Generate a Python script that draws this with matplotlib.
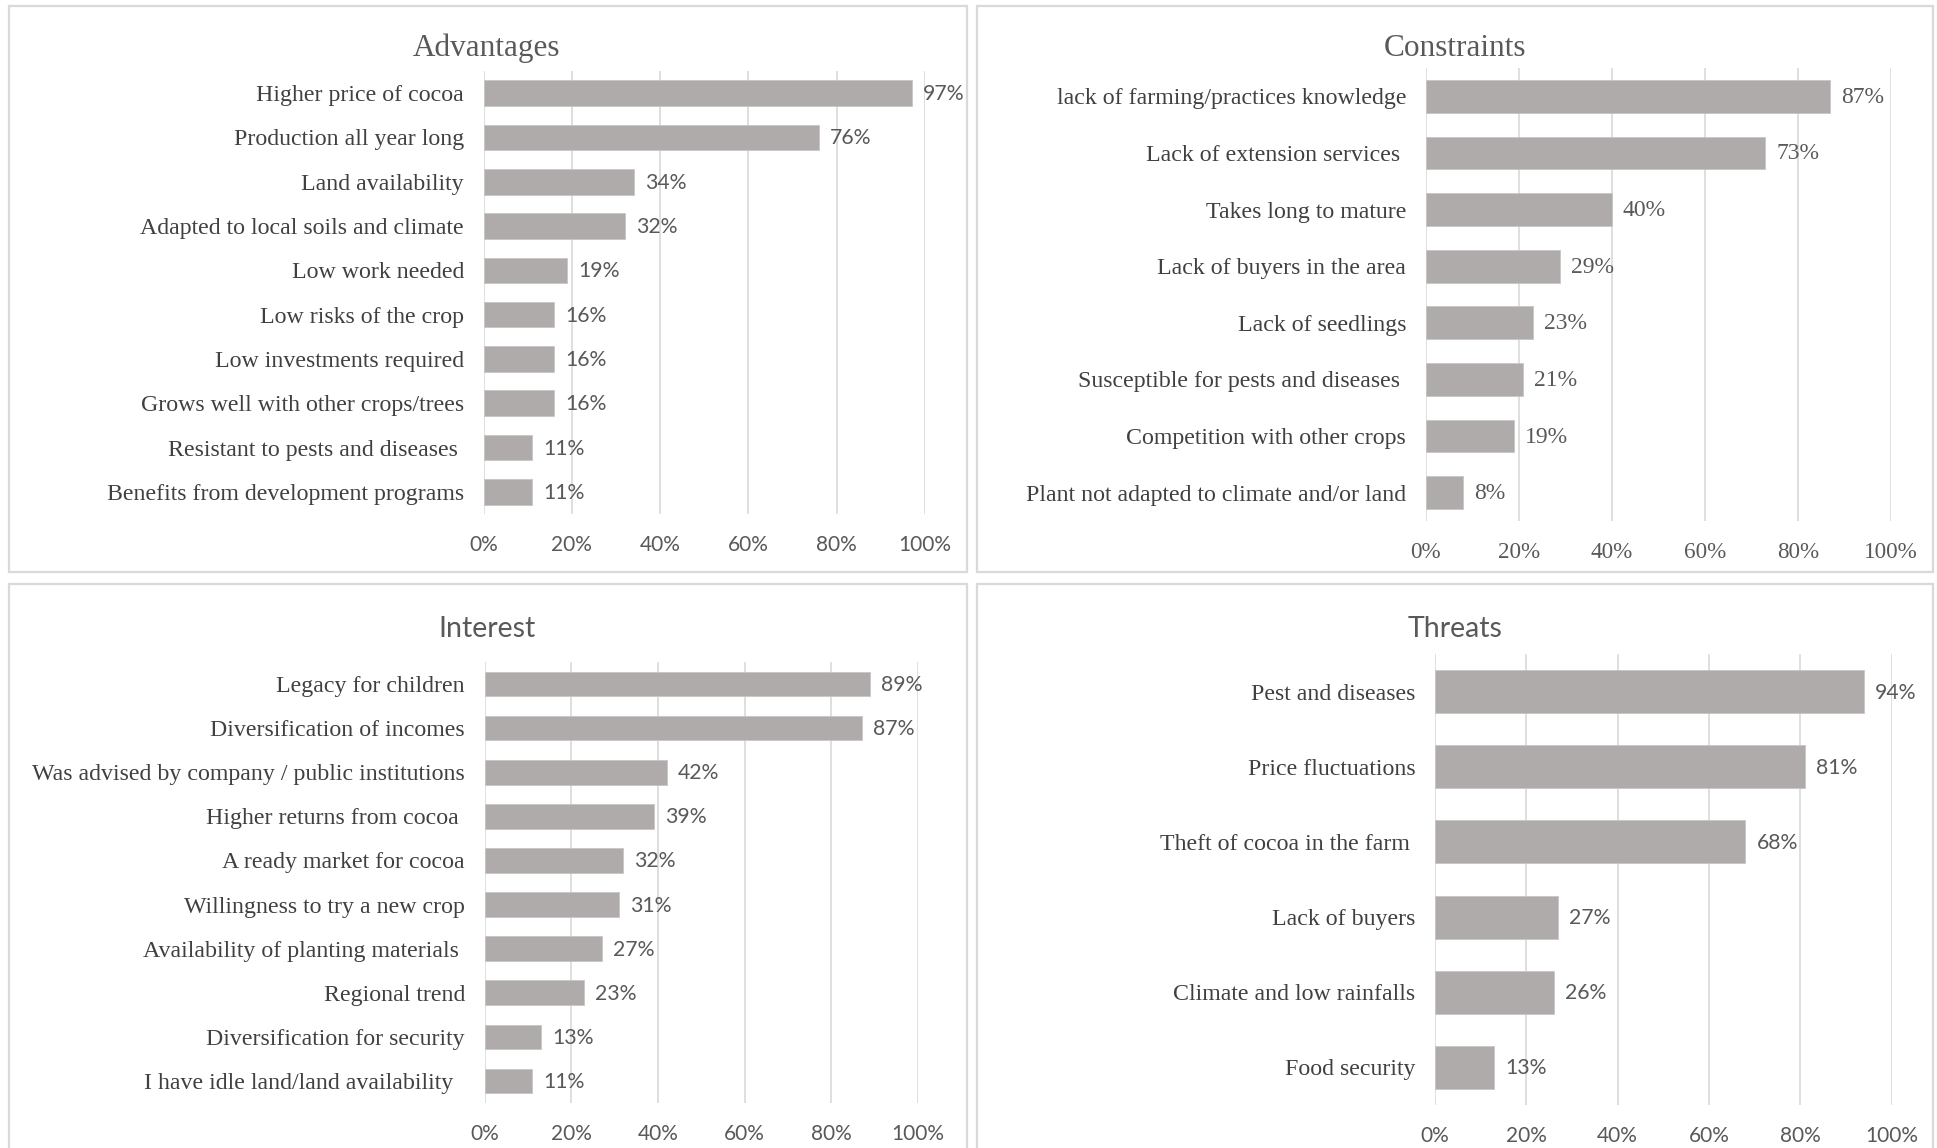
import matplotlib
matplotlib.use("Agg")
import matplotlib.pyplot as plt
from matplotlib.patches import Rectangle
from matplotlib.ticker import FixedLocator

# ---- data -------------------------------------------------------------
adv_labels = ["Higher price of cocoa", "Production all year long", "Land availability",
              "Adapted to local soils and climate", "Low work needed", "Low risks of the crop",
              "Low investments required", "Grows well with other crops/trees",
              "Resistant to pests and diseases ", "Benefits from development programs"]
adv_values = [97, 76, 34, 32, 19, 16, 16, 16, 11, 11]

con_labels = ["lack of farming/practices knowledge", "Lack of extension services ",
              "Takes long to mature", "Lack of buyers in the area", "Lack of seedlings",
              "Susceptible for pests and diseases ", "Competition with other crops",
              "Plant not adapted to climate and/or land"]
con_values = [87, 73, 40, 29, 23, 21, 19, 8]

int_labels = ["Legacy for children", "Diversification of incomes",
              "Was advised by company / public institutions", "Higher returns from cocoa ",
              "A ready market for cocoa", "Willingness to try a new crop",
              "Availability of planting materials ", "Regional trend",
              "Diversification for security", "I have idle land/land availability  "]
int_values = [89, 87, 42, 39, 32, 31, 27, 23, 13, 11]

thr_labels = ["Pest and diseases", "Price fluctuations", "Theft of cocoa in the farm ",
              "Lack of buyers", "Climate and low rainfalls", "Food security"]
thr_values = [94, 81, 68, 27, 26, 13]

x_ticks = [0, 20, 40, 60, 80, 100]
x_ticklabels = ["0%", "20%", "40%", "60%", "80%", "100%"]

# ---- styling ------------------------------------------------------------
W, H = 1937, 1148
BAR = "#AEABAA"
GRID = "#D9D9D9"
TXT = "#595959"
LBL = "#404040"
SERIF = ["Liberation Serif", "DejaVu Serif"]
SANS = ["Lato", "DejaVu Sans"]

fig = plt.figure(figsize=(W / 100, H / 100), dpi=100)
fig.patch.set_facecolor("white")


def frame(x0, y0, x1, y1):
    fig.patches.append(Rectangle((x0 / W, 1 - y1 / H), (x1 - x0) / W, (y1 - y0) / H,
                                 transform=fig.transFigure, fill=False,
                                 edgecolor=GRID, linewidth=1.6, zorder=0))


def panel(box, title, title_font, title_size, title_xy, labels, values,
          num_font, num_size, label_size, bar_h):
    left, top, right, bottom = box
    ax = fig.add_axes([left / W, 1 - bottom / H, (right - left) / W, (bottom - top) / H])
    n = len(labels)
    ypos = list(range(n))
    ax.barh(ypos, values, height=bar_h, color=BAR, edgecolor="#C8C6C5",
            linewidth=0.6, zorder=2)
    ax.set_xlim(0, 100)
    ax.set_ylim(n - 0.5, -0.5)
    ax.xaxis.set_major_locator(FixedLocator(x_ticks))
    ax.set_xticklabels(x_ticklabels, family=num_font, size=num_size - 0.3, color=TXT)
    ax.set_yticks(ypos)
    ax.set_yticklabels(labels, family=SERIF, size=label_size, color=LBL)
    ax.tick_params(axis="both", length=0)
    ax.tick_params(axis="x", pad=15)
    ax.tick_params(axis="y", pad=14)
    ax.grid(axis="x", color=GRID, linewidth=1.2, zorder=0)
    ax.set_axisbelow(True)
    for s in ax.spines.values():
        s.set_visible(False)
    for y, v in zip(ypos, values):
        ax.annotate(f"{v}%", xy=(v, y), xytext=(11, -1), textcoords="offset pixels",
                    ha="left", va="center", family=num_font, size=num_size,
                    color=TXT, annotation_clip=False)
    tx, ty = title_xy
    fig.text(tx / W, 1 - ty / H, title, ha="center", va="center",
             family=title_font, size=title_size, color=TXT)
    return ax


# panel frames
frame(9, 6, 967, 572)
frame(977, 6, 1933, 572)
frame(9, 584, 967, 1160)
frame(977, 584, 1933, 1160)

panel((483.5, 71, 925, 514), "Advantages", SERIF, 22.5, (487, 48),
      adv_labels, adv_values, SANS, 15.3, 17.2, 0.58)
panel((1425.5, 68, 1891, 521), "Constraints", SERIF, 22.5, (1455, 48),
      con_labels, con_values, SERIF, 17, 17.2, 0.58)
panel((484.5, 662, 918, 1103), "Interest", SANS, 20.5, (487, 629),
      int_labels, int_values, SANS, 15.3, 17.2, 0.56)
panel((1435, 654, 1891.5, 1105), "Threats", SANS, 20.5, (1455, 629),
      thr_labels, thr_values, SANS, 15.3, 17.2, 0.57)

fig.savefig("out.png", dpi=100, facecolor="white")
